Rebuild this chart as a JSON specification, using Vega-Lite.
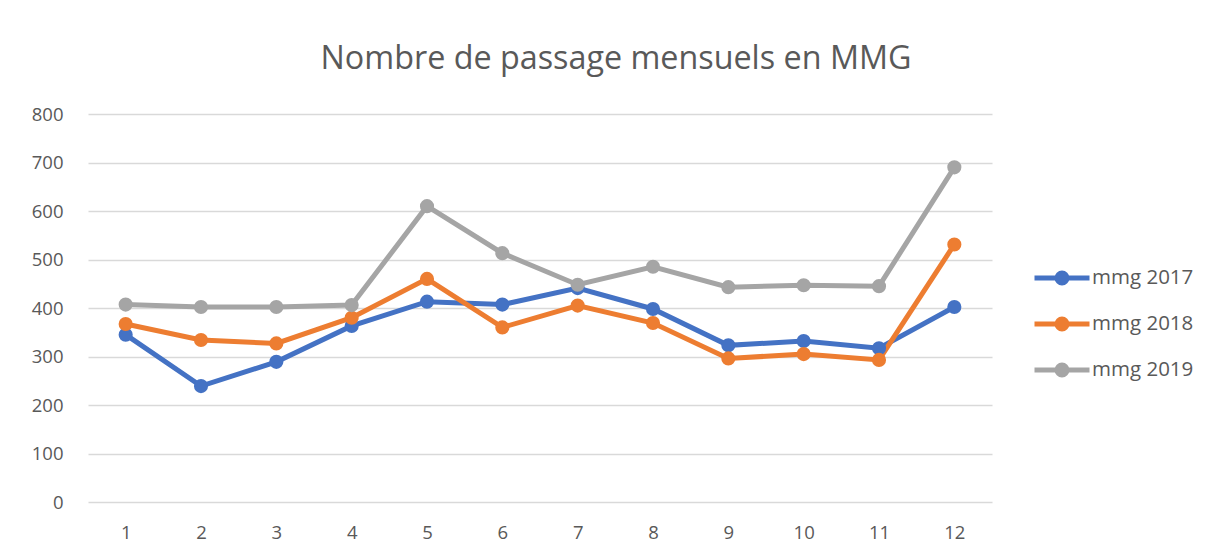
{
  "$schema": "https://vega.github.io/schema/vega-lite/v6.json",
  "autosize": {"type": "none"},
  "padding": {"left": 88, "top": 114, "right": 217, "bottom": 55},
  "width": 904,
  "height": 388,
  "background": "white",
  "title": {
    "text": "Nombre de passage mensuels en MMG",
    "font": "Open Sans",
    "fontSize": 32.3,
    "fontWeight": "normal",
    "color": "#595959",
    "anchor": "middle",
    "dx": 76,
    "baseline": "alphabetic",
    "offset": 4
  },
  "data": {
    "values": [
      {"mois": 1, "serie": "mmg 2017", "valeur": 345},
      {"mois": 2, "serie": "mmg 2017", "valeur": 239},
      {"mois": 3, "serie": "mmg 2017", "valeur": 289},
      {"mois": 4, "serie": "mmg 2017", "valeur": 363},
      {"mois": 5, "serie": "mmg 2017", "valeur": 413},
      {"mois": 6, "serie": "mmg 2017", "valeur": 407},
      {"mois": 7, "serie": "mmg 2017", "valeur": 441},
      {"mois": 8, "serie": "mmg 2017", "valeur": 398},
      {"mois": 9, "serie": "mmg 2017", "valeur": 323},
      {"mois": 10, "serie": "mmg 2017", "valeur": 332},
      {"mois": 11, "serie": "mmg 2017", "valeur": 317},
      {"mois": 12, "serie": "mmg 2017", "valeur": 402},
      {"mois": 1, "serie": "mmg 2018", "valeur": 367},
      {"mois": 2, "serie": "mmg 2018", "valeur": 334},
      {"mois": 3, "serie": "mmg 2018", "valeur": 327},
      {"mois": 4, "serie": "mmg 2018", "valeur": 380},
      {"mois": 5, "serie": "mmg 2018", "valeur": 460},
      {"mois": 6, "serie": "mmg 2018", "valeur": 360},
      {"mois": 7, "serie": "mmg 2018", "valeur": 405},
      {"mois": 8, "serie": "mmg 2018", "valeur": 369},
      {"mois": 9, "serie": "mmg 2018", "valeur": 296},
      {"mois": 10, "serie": "mmg 2018", "valeur": 305},
      {"mois": 11, "serie": "mmg 2018", "valeur": 293},
      {"mois": 12, "serie": "mmg 2018", "valeur": 531},
      {"mois": 1, "serie": "mmg 2019", "valeur": 407},
      {"mois": 2, "serie": "mmg 2019", "valeur": 402},
      {"mois": 3, "serie": "mmg 2019", "valeur": 402},
      {"mois": 4, "serie": "mmg 2019", "valeur": 406},
      {"mois": 5, "serie": "mmg 2019", "valeur": 610},
      {"mois": 6, "serie": "mmg 2019", "valeur": 513},
      {"mois": 7, "serie": "mmg 2019", "valeur": 448},
      {"mois": 8, "serie": "mmg 2019", "valeur": 485},
      {"mois": 9, "serie": "mmg 2019", "valeur": 443},
      {"mois": 10, "serie": "mmg 2019", "valeur": 447},
      {"mois": 11, "serie": "mmg 2019", "valeur": 445},
      {"mois": 12, "serie": "mmg 2019", "valeur": 690}
    ]
  },
  "encoding": {
    "x": {
      "field": "mois",
      "type": "ordinal",
      "scale": {"type": "point", "padding": 0.5},
      "axis": {
        "title": null,
        "domain": false,
        "ticks": false,
        "grid": false,
        "labelAngle": 0,
        "labelFont": "Open Sans",
        "labelFontSize": 18.5,
        "labelColor": "#595959",
        "labelPadding": 21
      }
    },
    "y": {
      "field": "valeur",
      "type": "quantitative",
      "scale": {"domain": [0, 800], "nice": false},
      "axis": {
        "title": null,
        "values": [0, 100, 200, 300, 400, 500, 600, 700, 800],
        "domain": false,
        "ticks": false,
        "grid": true,
        "gridColor": "#d9d9d9",
        "gridWidth": 1.5,
        "labelFont": "Open Sans",
        "labelFontSize": 18.5,
        "labelColor": "#595959",
        "labelPadding": 25
      }
    },
    "color": {
      "field": "serie",
      "type": "nominal",
      "scale": {
        "domain": ["mmg 2017", "mmg 2018", "mmg 2019"],
        "range": ["#4472c4", "#ed7d31", "#a5a5a5"]
      },
      "legend": {
        "title": null,
        "orient": "none",
        "legendX": 944,
        "legendY": 134,
        "symbolType": "M-1,0H1M-0.18,0A0.18,0.18 0 1,0 0.18,0A0.18,0.18 0 1,0 -0.18,0Z",
        "symbolSize": 3025,
        "symbolStrokeWidth": 5,
        "symbolOpacity": 1,
        "labelFont": "Open Sans",
        "labelFontSize": 20.5,
        "labelColor": "#595959",
        "labelOffset": 0,
        "rowPadding": 1,
        "padding": 0
      }
    }
  },
  "layer": [
    {"mark": {"type": "line", "strokeWidth": 5}},
    {"mark": {"type": "point", "filled": true, "opacity": 1, "size": 200}}
  ],
  "config": {"view": {"stroke": null}}
}
